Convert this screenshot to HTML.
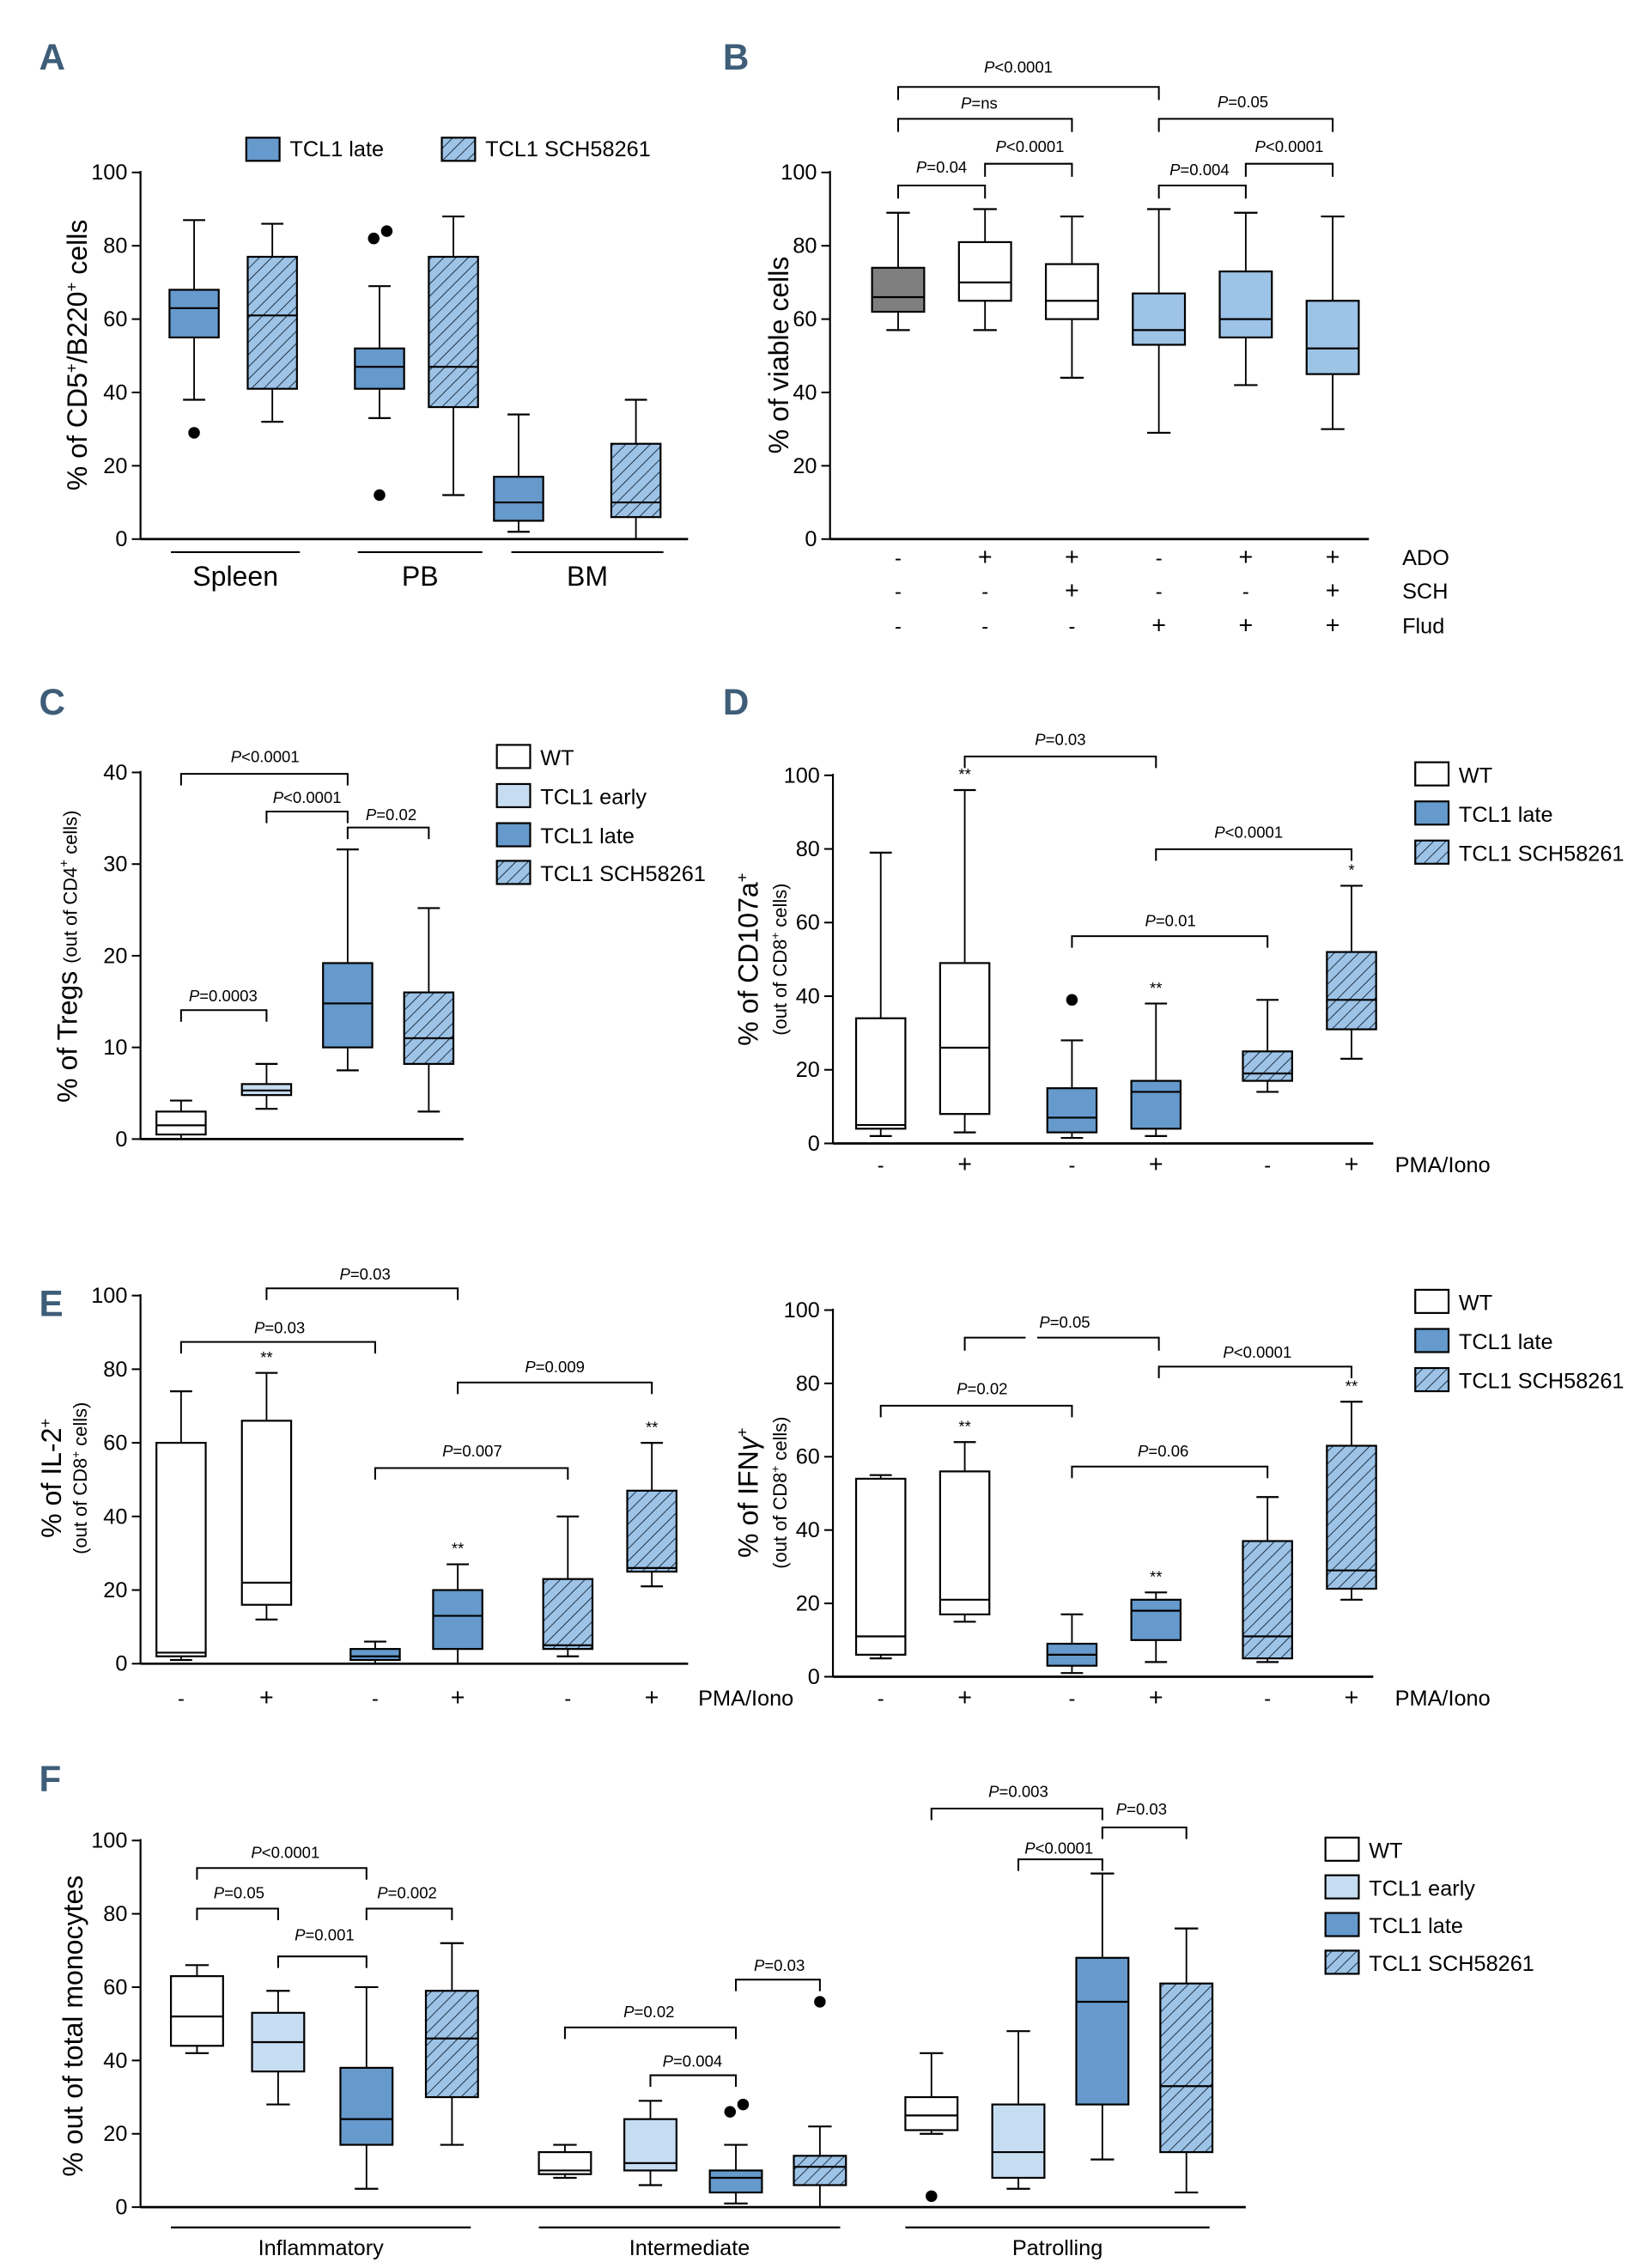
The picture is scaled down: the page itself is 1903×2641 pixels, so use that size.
<!DOCTYPE html>
<html><head><meta charset="utf-8"><style>
html,body{margin:0;padding:0;background:#fff;}
svg{display:block;font-family:"Liberation Sans",sans-serif;}
</style></head><body>
<svg id="fig" width="1903" height="2641" viewBox="0 0 1128 1565" preserveAspectRatio="none" xmlns="http://www.w3.org/2000/svg">
<defs>
<pattern id="hatch" patternUnits="userSpaceOnUse" width="6" height="6" patternTransform="rotate(45)">
<rect width="6" height="6" fill="#9dc3e6"/><line x1="0" y1="0" x2="0" y2="6" stroke="#1a2a3a" stroke-width="1.1"/>
</pattern>
</defs>
</svg>
<script>
// ---------- DATA ----------
const aCats = ['Spleen-late','Spleen-SCH','PB-late','PB-SCH','BM-late','BM-SCH'];
const aLo = [38,32,33,12,2,0];
const aQ1 = [55,41,41,36,5,6];
const aMed = [63,61,47,47,10,10];
const aQ3 = [68,77,52,77,17,26];
const aHi = [87,86,69,88,34,38];
const aOut = [[29],[],[84,82,12],[],[],[]];
const aTicks = [0,20,40,60,80,100];

const bLo = [57,57,44,29,42,30];
const bQ1 = [62,65,60,53,55,45];
const bMed = [66,70,65,57,60,52];
const bQ3 = [74,81,75,67,73,65];
const bHi = [89,90,88,90,89,88];
const bTicks = [0,20,40,60,80,100];
const bAdo = ['-','+','+','-','+','+'];
const bSch = ['-','-','+','-','-','+'];
const bFlud = ['-','-','-','+','+','+'];

const cLo = [0,3.3,7.5,3];
const cQ1 = [0.5,4.8,10,8.2];
const cMed = [1.5,5.3,14.8,11];
const cQ3 = [3,6,19.2,16];
const cHi = [4.2,8.2,31.6,25.2];
const cTicks = [0,10,20,30,40];

const dLo = [2,3,1.5,2,14,23];
const dQ1 = [4,8,3,4,17,31];
const dMed = [5,26,7,14,19,39];
const dQ3 = [34,49,15,17,25,52];
const dHi = [79,96,28,38,39,70];
const dOut = [[],[],[39],[],[],[]];
const dStars = ['','**','','**','','*'];
const dTicks = [0,20,40,60,80,100];

const eLo = [1,12,0,0,2,21];
const eQ1 = [2,16,1,4,4,25];
const eMed = [3,22,2,13,5,26];
const eQ3 = [60,66,4,20,23,47];
const eHi = [74,79,6,27,40,60];
const eStars = ['','**','','**','','**'];

const gLo = [5,15,1,4,4,21];
const gQ1 = [6,17,3,10,5,24];
const gMed = [11,21,6,18,11,29];
const gQ3 = [54,56,9,21,37,63];
const gHi = [55,64,17,23,49,75];
const gStars = ['','**','','**','','**'];

const fLo = [42,28,5,17, 8,6,1,0, 20,5,13,4];
const fQ1 = [44,37,17,30, 9,10,4,6, 21,8,28,15];
const fMed = [52,45,24,46, 10,12,8,11, 25,15,56,33];
const fQ3 = [63,53,38,59, 15,24,10,14, 30,28,68,61];
const fHi = [66,59,60,72, 17,29,17,22, 42,48,91,76];
const fOut = [[],[],[],[], [],[],[26,28],[56], [3],[],[],[]];
const fTicks = [0,20,40,60,80,100];

// ---------- DRAW ----------
const NS='http://www.w3.org/2000/svg';
const svg=document.getElementById('fig');
function el(tag,attrs,parent,text){const e=document.createElementNS(NS,tag);for(const k in attrs)e.setAttribute(k,attrs[k]);if(text!==undefined)e.textContent=text;(parent||svg).appendChild(e);return e;}
const FILL={gray:'#7f7f7f',white:'#fff',late:'#6699cc',early:'#c6dcf1',sch:'url(#hatch)',lb:'#9dc3e6'};
function axis(name,x0,y0,y1,xEnd,max,ticks){
  const g=el('g',{});
  
  
  const sy=v=>y0-(y0-y1)*v/max;
  el('line',{x1:x0,y1:y1-1,x2:x0,y2:y0,stroke:'#000','stroke-width':1.3},g);
  el('line',{x1:x0,y1:y0,x2:xEnd,y2:y0,stroke:'#000','stroke-width':1.6},g);
  ticks.forEach(t=>{
    el('line',{x1:x0-6,y1:sy(t),x2:x0,y2:sy(t),stroke:'#000','stroke-width':1.2},g);
    const tx=el('text',{x:x0-9,y:sy(t)+5,'font-size':15,'text-anchor':'end'},g,String(t));
    
    
  });
  return sy;
}
function boxes(name,sy,xs,w,lo,q1,md,q3,hi,styles,outs,stars){
  xs.forEach((x,i)=>{
    const g=el('g',{});
    
    
    const cw=w*0.45;
    el('line',{x1:x,y1:sy(hi[i]),x2:x,y2:sy(lo[i]),stroke:'#000','stroke-width':1.1},g);
    el('line',{x1:x-cw/2,y1:sy(hi[i]),x2:x+cw/2,y2:sy(hi[i]),stroke:'#000','stroke-width':1.3},g);
    el('line',{x1:x-cw/2,y1:sy(lo[i]),x2:x+cw/2,y2:sy(lo[i]),stroke:'#000','stroke-width':1.3},g);
    el('rect',{x:x-w/2,y:sy(q3[i]),width:w,height:Math.max(1,sy(q1[i])-sy(q3[i])),fill:FILL[styles[i]],stroke:'#000','stroke-width':1.3},g);
    el('line',{x1:x-w/2,y1:sy(md[i]),x2:x+w/2,y2:sy(md[i]),stroke:'#000','stroke-width':1.3},g);
    if(outs){const os=outs[i]||[];os.forEach((o,j)=>{
      const close=os.some((p,k)=>k!==j&&Math.abs(p-o)<6);
      const dx=close?(os.filter(p=>Math.abs(p-o)<6&&p>o).length?-4:5):0;
      el('circle',{cx:x+dx,cy:sy(o),r:4,fill:'#000'},g);});}
    if(stars&&stars[i])el('text',{x:x,y:sy(hi[i])-7,'font-size':11,'text-anchor':'middle'},g,stars[i]);
  });
}
function bracket(name,xa,xb,y,label,lx,ly,h){
  const g=el('g',{});
  
  
  h=h||9;
  el('path',{d:`M${xa},${y+h}V${y}H${xb}V${y+h}`,fill:'none',stroke:'#000','stroke-width':1.2},g);
  const t=el('text',{x:lx,y:ly,'font-size':11,'text-anchor':'middle'},g);
  el('tspan',{'font-style':'italic'},t,'P');
  el('tspan',{},t,label);
}
function letter(ch,x,y){const t=el('text',{x:x,y:y,'font-size':25,'font-weight':'bold',fill:'#3e5d78','font-family':'"Liberation Sans Narrow","Liberation Sans",sans-serif'},svg,ch);
  
  }
function ytitle(name,x,y,main,sup,after,size){
  const t=el('text',{transform:`translate(${x},${y}) rotate(-90)`,'text-anchor':'middle','font-size':size||19},svg);
  
  
  t.innerHTML=main;
}
function legend(name,x,ys,labels,styles){
  ys.forEach((y,i)=>{
    const g=el('g',{});
    
    
    el('rect',{x:x,y:y-8,width:23,height:16,fill:FILL[styles[i]],stroke:'#000','stroke-width':1.3},g);
    el('text',{x:x+30,y:y+6,'font-size':15},g,labels[i]);
  });
}
function xrow(name,xs,y,vals,label,lx){
  vals.forEach((v,i)=>{const t=el('text',{x:xs[i],y:y,'font-size':v=='+'?17:14,'text-anchor':'middle'},svg,v);
    
    });
  if(label){const t=el('text',{x:lx,y:y,'font-size':15},svg,label);
    
    }
}
function underline(name,x1,x2,y,lbl,ly,fs){
  el('line',{x1:x1,y1:y,x2:x2,y2:y,stroke:'#000','stroke-width':1.3});
  const t=el('text',{x:(x1+x2)/2,y:ly,'font-size':fs,'text-anchor':'middle'},svg,lbl);
  
  
}

// Panel A
letter('A',27,48);
let sy=axis('panel-a',97,372,119,475,100,aTicks);
boxes('panel-a',sy,[134,188,262,313,358,439],34,aLo,aQ1,aMed,aQ3,aHi,['late','sch','late','sch','late','sch'],aOut);
(function(){const g=el('g',{});
el('rect',{x:170,y:95,width:23,height:16,fill:FILL.late,stroke:'#000','stroke-width':1.3},g);
el('text',{x:200,y:108,'font-size':15},g,'TCL1 late');
el('rect',{x:305,y:95,width:23,height:16,fill:FILL.sch,stroke:'#000','stroke-width':1.3},g);
el('text',{x:335,y:108,'font-size':15},g,'TCL1 SCH58261');})();
ytitle('panel-a-y-title',60,245,'% of CD5<tspan dy="-7" font-size="11">+</tspan><tspan dy="7">/B220</tspan><tspan dy="-7" font-size="11">+</tspan><tspan dy="7"> cells</tspan>');
underline('x-label-spleen',118,207,381,'Spleen',404,19);
underline('x-label-pb',247,333,381,'PB',404,19);
underline('x-label-bm',353,458,381,'BM',404,19);

// Panel B
letter('B',499,48);
sy=axis('panel-b',573,372,119,945,100,bTicks);
const bx=[620,680,740,800,860,920];
boxes('panel-b',sy,bx,36,bLo,bQ1,bMed,bQ3,bHi,['gray','white','white','lb','lb','lb']);
bracket('p-b-1',620,800,60,'<0.0001',703,50);
bracket('p-b-2',620,740,82,'=ns',676,75);
bracket('p-b-3',800,920,82,'=0.05',858,74);
bracket('p-b-4',620,680,128,'=0.04',650,119);
bracket('p-b-5',680,740,113,'<0.0001',711,105);
bracket('p-b-6',800,860,128,'=0.004',828,121);
bracket('p-b-7',860,920,113,'<0.0001',890,105);
xrow('ado',bx,390,bAdo,'ADO',968);
xrow('sch',bx,413,bSch,'SCH',968);
xrow('flud',bx,437,bFlud,'Flud',968);
ytitle('panel-b-y-title',544,245,'% of viable cells');

// Panel C
letter('C',27,493);
sy=axis('panel-c',97,786,533,320,40,cTicks);
boxes('panel-c',sy,[125,184,240,296],34,cLo,cQ1,cMed,cQ3,cHi,['white','early','late','sch']);
bracket('p-c-1',125,240,534,'<0.0001',183,526,8);
bracket('p-c-2',184,240,560,'<0.0001',212,554,8);
bracket('p-c-3',240,296,571,'=0.02',270,566,8);
bracket('p-c-4',125,184,697,'=0.0003',154,691,8);
legend('panel-c-legend',343,[522,549,576,602],['WT','TCL1 early','TCL1 late','TCL1 SCH58261'],['white','early','late','sch']);
ytitle('panel-c-y-title',53,660,'% of Tregs <tspan font-size="13">(out of CD4</tspan><tspan dy="-6" font-size="9">+</tspan><tspan dy="6" font-size="13"> cells)</tspan>');

// Panel D
letter('D',499,493);
sy=axis('panel-d',575,789,535,948,100,dTicks);
const dx=[608,666,740,798,875,933];
boxes('panel-d',sy,dx,34,dLo,dQ1,dMed,dQ3,dHi,['white','white','late','late','sch','sch'],dOut,dStars);
bracket('p-d-1',666,798,522,'=0.03',732,514,8);
bracket('p-d-2',798,933,586,'<0.0001',862,578,8);
bracket('p-d-3',740,875,646,'=0.01',808,639,8);
xrow('pma-d',dx,809,['-','+','-','+','-','+'],'PMA/Iono',963);
legend('panel-d-legend',977,[534,561,588],['WT','TCL1 late','TCL1 SCH58261'],['white','late','sch']);
ytitle('panel-d-y-title',523,662,'% of CD107a<tspan dy="-7" font-size="11">+</tspan>');
ytitle('panel-d-y-subtitle',543,662,'(out of CD8<tspan dy="-5" font-size="8">+</tspan><tspan dy="5"> cells)</tspan>','','',13);

// Panel E left
letter('E',27,908);
sy=axis('panel-e-il2',97,1148,894,475,100,dTicks);
const ex=[125,184,259,316,392,450];
boxes('panel-e-il2',sy,ex,34,eLo,eQ1,eMed,eQ3,eHi,['white','white','late','late','sch','sch'],null,eStars);
bracket('p-e-1',184,316,889,'=0.03',252,883,8);
bracket('p-e-2',125,259,926,'=0.03',193,920,8);
bracket('p-e-3',316,450,954,'=0.009',383,947,8);
bracket('p-e-4',259,392,1013,'=0.007',326,1005,8);
xrow('pma-e',ex,1177,['-','+','-','+','-','+'],'PMA/Iono',482);
ytitle('panel-e-y-title',42,1020,'% of IL-2<tspan dy="-7" font-size="11">+</tspan>');
ytitle('panel-e-y-subtitle',60,1020,'(out of CD8<tspan dy="-5" font-size="8">+</tspan><tspan dy="5"> cells)</tspan>','','',13);

// Panel E right
sy=axis('panel-e-ifng',575,1157,904,948,100,dTicks);
boxes('panel-e-ifng',sy,dx,34,gLo,gQ1,gMed,gQ3,gHi,['white','white','late','late','sch','sch'],null,gStars);
(function(){const g=el('g',{});
el('path',{d:'M666,932V923H708M716,923H800V932',fill:'none',stroke:'#000','stroke-width':1.2},g);
const t=el('text',{x:735,y:916,'font-size':11,'text-anchor':'middle'},g);el('tspan',{'font-style':'italic'},t,'P');el('tspan',{},t,'=0.05');})();
bracket('p-e-6',608,740,970,'=0.02',678,962,8);
bracket('p-e-7',800,933,943,'<0.0001',868,937,8);
bracket('p-e-8',740,875,1012,'=0.06',803,1005,8);
xrow('pma-e2',dx,1177,['-','+','-','+','-','+'],'PMA/Iono',963);
legend('panel-e-legend',977,[898,925,952],['WT','TCL1 late','TCL1 SCH58261'],['white','late','sch']);
ytitle('panel-e2-y-title',523,1030,'% of IFN<tspan font-style="italic">γ</tspan><tspan dy="-7" font-size="11">+</tspan>');
ytitle('panel-e2-y-subtitle',543,1030,'(out of CD8<tspan dy="-5" font-size="8">+</tspan><tspan dy="5"> cells)</tspan>','','',13);

// Panel F
letter('F',27,1236);
sy=axis('panel-f',97,1523,1270,860,100,fTicks);
const fx=[136,192,253,312,390,449,508,566,643,703,761,819];
boxes('panel-f',sy,fx,36,fLo,fQ1,fMed,fQ3,fHi,['white','early','late','sch','white','early','late','sch','white','early','late','sch'],fOut);
bracket('p-f-1',136,253,1289,'<0.0001',197,1282,8);
bracket('p-f-2',136,192,1317,'=0.05',165,1310,8);
bracket('p-f-3',253,312,1317,'=0.002',281,1310,8);
bracket('p-f-4',192,253,1350,'=0.001',224,1339,8);
bracket('p-f-5',390,508,1399,'=0.02',448,1392,8);
bracket('p-f-6',449,508,1432,'=0.004',478,1426,8);
bracket('p-f-7',508,566,1366,'=0.03',538,1360,8);
bracket('p-f-8',643,761,1248,'=0.003',703,1240,8);
bracket('p-f-9',761,819,1261,'=0.03',788,1252,8);
bracket('p-f-10',703,761,1283,'<0.0001',731,1279,8);
underline('x-label-inflammatory',118,325,1537,'Inflammatory',1556,15);
underline('x-label-intermediate',372,580,1537,'Intermediate',1556,15);
underline('x-label-patrolling',625,835,1537,'Patrolling',1556,15);
legend('panel-f-legend',915,[1276,1302,1328,1354],['WT','TCL1 early','TCL1 late','TCL1 SCH58261'],['white','early','late','sch']);
ytitle('panel-f-y-title',57,1398,'%  out of total monocytes');
</script>
</body></html>
